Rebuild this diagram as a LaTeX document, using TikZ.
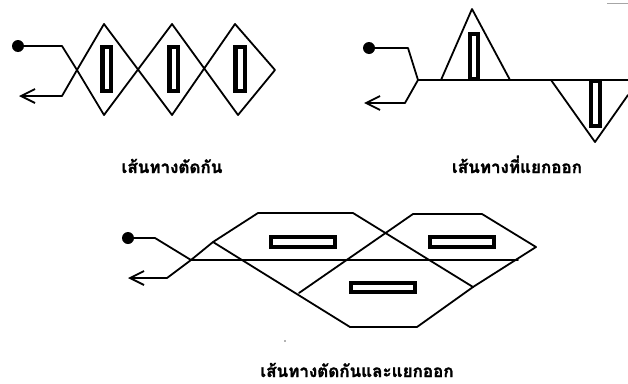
\documentclass[tikz,border=0pt]{standalone}
\usepackage{fontspec}
\newfontfamily\thaifont[Script=Thai,FakeBold=1.5]{Loma}
\usetikzlibrary{arrows.meta}
\tikzset{
  line/.style={draw=black,line width=1.8pt,line join=round,line cap=round},
  back/.style={line,-{Straight Barb[length=14pt,width=14pt,line width=1.8pt]}},
  startdot/.style={circle,fill=black,inner sep=0pt,minimum size=12pt},
  hrect/.style={draw=black,fill=white,line width=4.4pt,sharp corners},
  caption/.style={font=\thaifont\bfseries\fontsize{17}{19}\selectfont,inner sep=0pt,text=black,anchor=base}
}
\begin{document}
\begin{tikzpicture}[x=1pt,y=-1pt]
\useasboundingbox (0,0) rectangle (628,383);
% --- crossing paths ---
\node[startdot] (a0) at (18,46) {};
\coordinate (a1) at (62,46);
\coordinate (ax) at (77,70);
\coordinate (a2) at (62,96);
\coordinate (aend) at (19,96);
\draw[line] (a0) -- (a1) -- (ax) -- (104,115) -- (172,24) -- (238,115) -- (275,70) -- (235,24) -- (172,115) -- (104,24) -- (ax);
\draw[back] (ax) -- (a2) -- (aend);
\draw[hrect] (102.3,47.2) rectangle (110.7,90.8);
\draw[hrect] (169.3,47.2) rectangle (177.7,90.8);
\draw[hrect] (235.3,47.2) rectangle (244.7,90.8);
\node[caption] (c1) at (172,173) {เส้นทางตัดกัน};
% --- branching paths ---
\node[startdot] (b0) at (369,48) {};
\coordinate (b1) at (408,48);
\coordinate (bx) at (418,80);
\coordinate (b2) at (405,103);
\coordinate (bend) at (364,103);
\draw[line] (b0) -- (b1) -- (bx) -- (628,80);
\draw[back] (bx) -- (b2) -- (bend);
\draw[line] (441,80) -- (472,9) -- (510,80);
\draw[line] (551,80) -- (595,142) -- (628,95);
\draw[hrect] (470.2,34.2) rectangle (477.8,79);
\draw[hrect] (591.2,81) rectangle (599.8,126);
\draw[gray!70,line width=0.8pt] (607,3) -- (628,3);
\node[caption] (c2) at (517,173) {เส้นทางที่แยกออก};
% --- crossing and branching paths ---
\node[startdot] (d0) at (128,238) {};
\coordinate (d1) at (155,238);
\coordinate (dx) at (191,260);
\coordinate (dy) at (213,242);
\coordinate (d2) at (167,278);
\coordinate (dend) at (128,278);
\draw[line] (d0) -- (d1) -- (dx) -- (518,260);
\draw[back] (dy) -- (dx) -- (d2) -- (dend);
\draw[line] (dy) -- (258,213) -- (353,213) -- (473,287) -- (417,327) -- (350,327) -- (dy);
\draw[line] (299,293) -- (413,214) -- (482,214) -- (536,247) -- (473,287);
\draw[hrect] (271,237.2) rectangle (335,247);
\draw[hrect] (430,237.2) rectangle (494,247);
\draw[hrect] (351,283) rectangle (415,292);
\fill[black!60] (285,341) circle (0.8pt);
\node[caption] (c3) at (357,377) {เส้นทางตัดกันและแยกออก};
\end{tikzpicture}
\end{document}
